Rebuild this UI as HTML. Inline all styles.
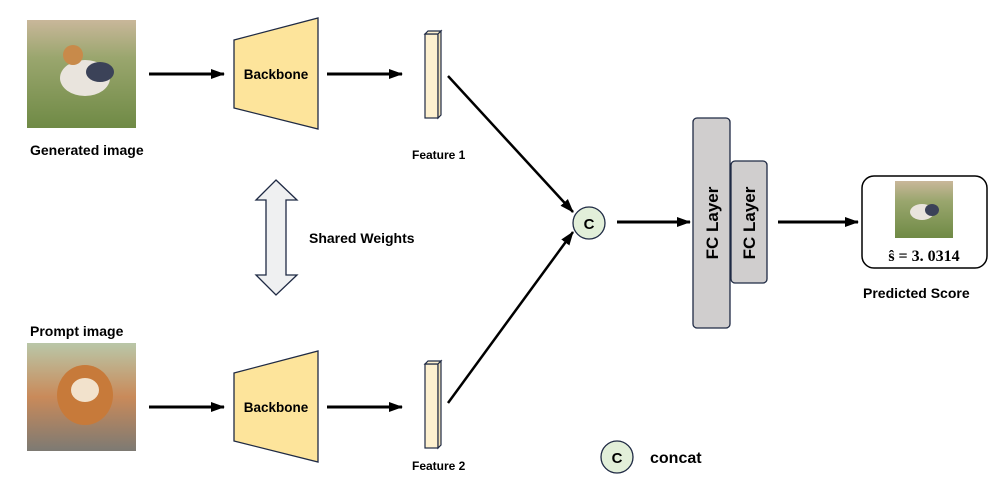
<!DOCTYPE html>
<html><head><style>
body{margin:0;width:1002px;height:491px;background:#fff;overflow:hidden}
svg text{font-family:"Liberation Sans",Arial,sans-serif;font-weight:bold;fill:#000}
</style></head><body>
<svg width="1002" height="491" viewBox="0 0 1002 491" xmlns="http://www.w3.org/2000/svg">
<defs>
<marker id="ah" markerWidth="14" markerHeight="12" refX="13" refY="6" orient="auto" markerUnits="userSpaceOnUse">
<path d="M0,1 L14,6 L0,11 Z" fill="#000"/></marker>
<linearGradient id="g1" x1="0" y1="0" x2="0" y2="1"><stop offset="0" stop-color="#c9b79a"/><stop offset="0.35" stop-color="#9aa66e"/><stop offset="1" stop-color="#6f8a45"/></linearGradient>
<linearGradient id="g2" x1="0" y1="0" x2="0" y2="1"><stop offset="0" stop-color="#b9c7a8"/><stop offset="0.5" stop-color="#c98a5a"/><stop offset="1" stop-color="#7d7a73"/></linearGradient>
</defs>
<rect x="27" y="20" width="109" height="108" fill="url(#g1)"/>
<ellipse cx="85" cy="78" rx="25" ry="18" fill="#e9e4dd"/><ellipse cx="100" cy="72" rx="14" ry="10" fill="#3b4258"/><circle cx="73" cy="55" r="10" fill="#c88a4a"/>
<text x="30" y="155" font-size="14">Generated image</text>
<rect x="27" y="343" width="109" height="108" fill="url(#g2)"/>
<ellipse cx="85" cy="395" rx="28" ry="30" fill="#c77a3a"/><ellipse cx="85" cy="390" rx="14" ry="12" fill="#f2e2cc"/>
<text x="30" y="336" font-size="14">Prompt image</text>
<line x1="149" y1="74" x2="224" y2="74" stroke="#000" stroke-width="3" marker-end="url(#ah)"/>
<line x1="327" y1="74" x2="402" y2="74" stroke="#000" stroke-width="3" marker-end="url(#ah)"/>
<line x1="149" y1="407" x2="224" y2="407" stroke="#000" stroke-width="3" marker-end="url(#ah)"/>
<line x1="327" y1="407" x2="402" y2="407" stroke="#000" stroke-width="3" marker-end="url(#ah)"/>
<polygon points="234,40 318,18 318,129 234,108" fill="#fde49b" stroke="#1f2a44" stroke-width="1.3"/>
<text x="276" y="79" font-size="13.5" text-anchor="middle">Backbone</text>
<polygon points="234,373 318,351 318,462 234,441" fill="#fde49b" stroke="#1f2a44" stroke-width="1.3"/>
<text x="276" y="412" font-size="13.5" text-anchor="middle">Backbone</text>
<g stroke="#1f2a44" stroke-width="1.2">
<rect x="425" y="34" width="13" height="84" fill="#fdf0cf"/><polygon points="425,34 428,31 441,31 438,34" fill="#fdf0cf"/><polygon points="438,34 441,31 441,115 438,118" fill="#f2e2b8"/>
<rect x="425" y="364" width="13" height="84" fill="#fdf0cf"/><polygon points="425,364 428,361 441,361 438,364" fill="#fdf0cf"/><polygon points="438,364 441,361 441,445 438,448" fill="#f2e2b8"/>
</g>
<text x="412" y="159" font-size="12">Feature 1</text>
<text x="412" y="470" font-size="12">Feature 2</text>
<polygon points="276,180 297,200 286,200 286,275 297,275 276,295 256,275 266,275 266,200 256,200" fill="#eff0f1" stroke="#1f2a44" stroke-width="1.3"/>
<text x="309" y="243" font-size="14">Shared Weights</text>
<line x1="448" y1="76" x2="573" y2="212" stroke="#000" stroke-width="2.5" marker-end="url(#ah)"/>
<line x1="448" y1="403" x2="573" y2="232" stroke="#000" stroke-width="2.5" marker-end="url(#ah)"/>
<circle cx="589" cy="223" r="16" fill="#e2efd9" stroke="#1f2a44" stroke-width="1.3"/>
<text x="589" y="229" font-size="15" text-anchor="middle">C</text>
<line x1="617" y1="222" x2="690" y2="222" stroke="#000" stroke-width="3" marker-end="url(#ah)"/>
<rect x="693" y="118" width="37" height="210" rx="4" fill="#d0cece" stroke="#1f2a44" stroke-width="1.3"/>
<rect x="731" y="161" width="36" height="122" rx="4" fill="#d0cece" stroke="#1f2a44" stroke-width="1.3"/>
<text transform="translate(718,223) rotate(-90)" font-size="17" text-anchor="middle">FC Layer</text>
<text transform="translate(755,223) rotate(-90)" font-size="17" text-anchor="middle">FC Layer</text>
<line x1="778" y1="222" x2="858" y2="222" stroke="#000" stroke-width="3" marker-end="url(#ah)"/>
<rect x="862" y="176" width="125" height="92" rx="12" fill="#fff" stroke="#000" stroke-width="1.5"/>
<rect x="895" y="181" width="58" height="57" fill="url(#g1)"/>
<ellipse cx="922" cy="212" rx="12" ry="8" fill="#e9e4dd"/><ellipse cx="932" cy="210" rx="7" ry="6" fill="#3b4258"/>
<text x="924" y="261" font-size="16" text-anchor="middle" style="font-family:'Liberation Serif',serif">ŝ = 3. 0314</text>
<text x="863" y="298" font-size="14">Predicted Score</text>
<circle cx="617" cy="457" r="16" fill="#e2efd9" stroke="#1f2a44" stroke-width="1.3"/>
<text x="617" y="463" font-size="15" text-anchor="middle">C</text>
<text x="650" y="463" font-size="16">concat</text>
</svg>
</body></html>
